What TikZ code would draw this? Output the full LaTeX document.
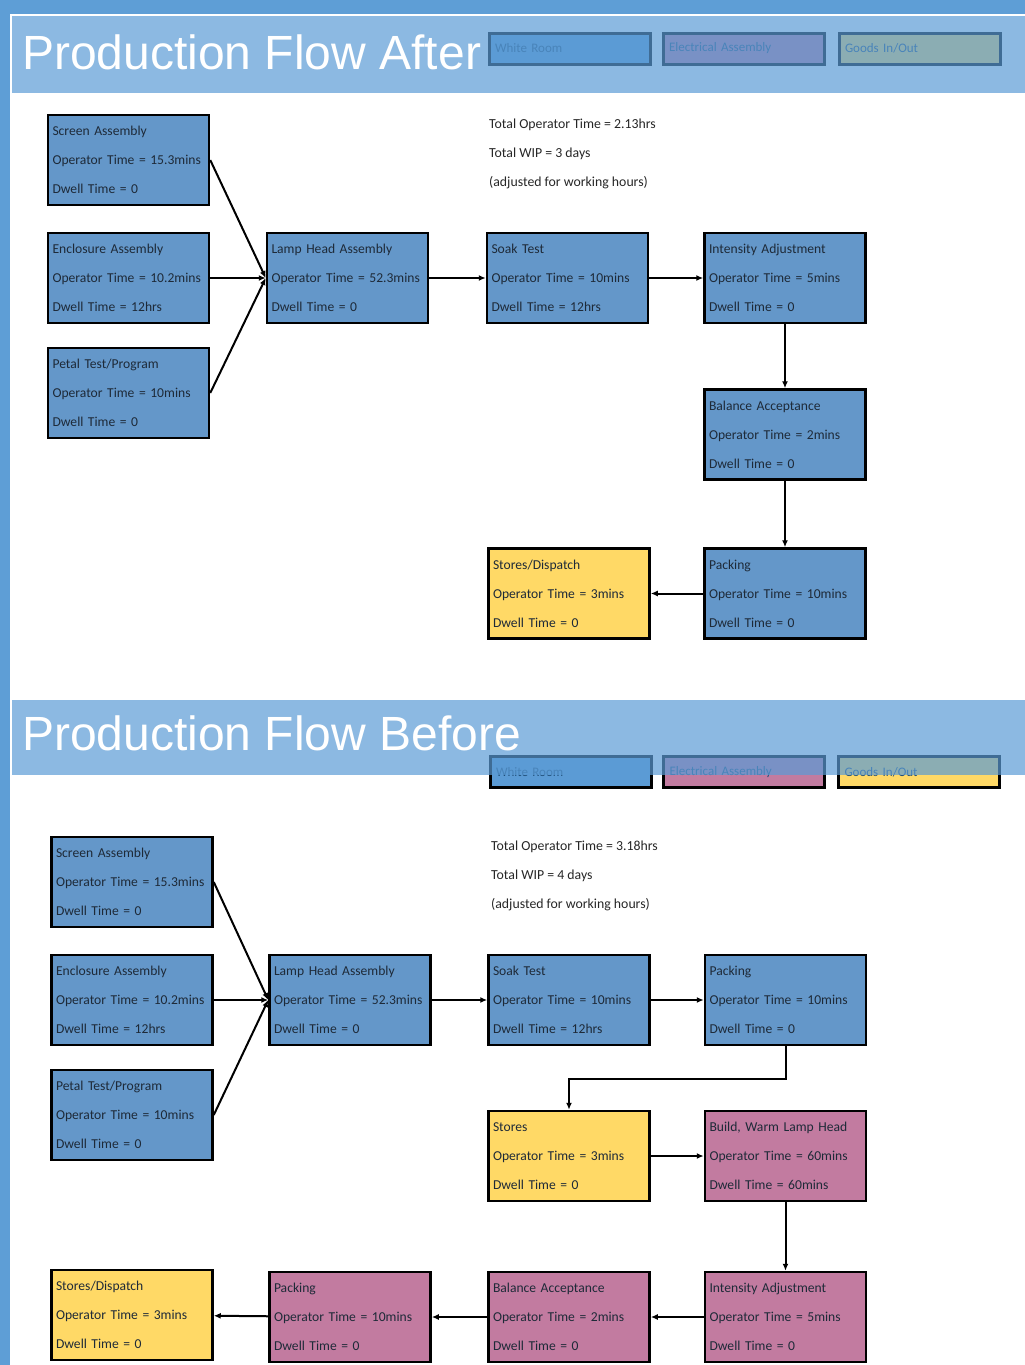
\documentclass[tikz,border=0pt]{standalone}
\usepackage{fontspec}
\setmainfont{Carlito}
\newfontfamily\headfont{Liberation Sans}
\usetikzlibrary{arrows.meta}
\definecolor{stripblue}{HTML}{5E9ED6}
\definecolor{bandblue}{HTML}{5B9BD5}
\definecolor{wroom}{HTML}{6497C9}
\definecolor{eassy}{HTML}{C27BA0}
\definecolor{goods}{HTML}{FFD966}
\definecolor{boxtext}{HTML}{1E2A38}
\definecolor{keytext}{HTML}{1F4E79}
\begin{document}
\begin{tikzpicture}[x=1pt,y=-1pt,
    stage/.style={draw, line width=2.5pt, minimum width=161pt, minimum height=90pt,
      text width=152pt, inner xsep=4.5pt, inner ysep=2pt, align=left, text=boxtext,
      font=\fontsize{13.6}{29}\selectfont},
    wr/.style={stage, fill=wroom},
    ea/.style={stage, fill=eassy},
    gd/.style={stage, fill=goods},
    key/.style={draw, line width=3pt, minimum width=161pt, minimum height=31pt,
      text width=149pt, inner xsep=6pt, align=left, text=keytext,
      font=\fontsize{13}{15}\selectfont},
    note/.style={align=left, text=black!85, inner sep=0pt,
      font=\fontsize{13.8}{29}\selectfont},
    head/.style={anchor=base west, text=white, inner sep=0pt,
      font=\headfont\fontsize{48}{50}\selectfont},
    flow/.style={-{Latex[length=7pt,width=6pt]}, line width=2pt},
  ]
  \useasboundingbox (0,0) rectangle (1025,1365);
  % frame
  \fill[stripblue] (0,0) rectangle (1025,14);
  \fill[stripblue] (0,0) rectangle (10,1365);
  % keys, under the bands
  \node[key, fill=bandblue] (kw1) at (569.5,48.5) {White Room};
  \node[key, fill=eassy] (ke1) at (743.5,48.5) {Electrical Assembly};
  \node[key, fill=goods] (kg1) at (919.5,48.5) {Goods In/Out};
  \node[key, fill=bandblue] (kw2) at (570.5,772) {White Room};
  \node[key, fill=eassy] (ke2) at (744,772) {Electrical Assembly};
  \node[key, fill=goods] (kg2) at (919,772) {Goods In/Out};
  \fill[bandblue, opacity=.7] (12,16) rectangle (1025,93);
  \fill[bandblue, opacity=.7] (12,700) rectangle (1025,775);
  \node[head] (t1) at (22,69) {Production Flow After};
  \node[head] (t2) at (22,750) {Production Flow Before};

  % after
  \node[wr] (sa1) at (128.5,160) {Screen Assembly\\Operator Time = 15.3mins\\Dwell Time = 0};
  \node[wr] (ea1) at (128.5,278) {Enclosure Assembly\\Operator Time = 10.2mins\\Dwell Time = 12hrs};
  \node[wr] (pt1) at (128.5,393) {Petal Test/Program\\Operator Time = 10mins\\Dwell Time = 0};
  \node[wr] (lh1) at (347.5,278) {Lamp Head Assembly\\Operator Time = 52.3mins\\Dwell Time = 0};
  \node[wr] (st1) at (567.5,278) {Soak Test\\Operator Time = 10mins\\Dwell Time = 12hrs};
  \node[wr] (ia1) at (785,278) {Intensity Adjustment\\Operator Time = 5mins\\Dwell Time = 0};
  \node[wr] (ba1) at (785,434.5) {Balance Acceptance\\Operator Time = 2mins\\Dwell Time = 0};
  \node[wr] (pk1) at (785,593.5) {Packing\\Operator Time = 10mins\\Dwell Time = 0};
  \node[gd] (sd1) at (569,593.5) {Stores/Dispatch\\Operator Time = 3mins\\Dwell Time = 0};
  \node[note, anchor=west] (tot1) at (489,154) {Total Operator Time = 2.13hrs\\Total WIP = 3 days\\(adjusted for working hours)};
  \draw[flow] (sa1.east) -- (lh1.west);
  \draw[flow] (ea1) -- (lh1);
  \draw[flow] (pt1.east) -- (lh1.west);
  \draw[flow] (lh1) -- (st1);
  \draw[flow] (st1) -- (ia1);
  \draw[flow] (ia1) -- (ba1);
  \draw[flow] (ba1) -- (pk1);
  \draw[flow] (pk1) -- (sd1);

  % before
  \node[wr] (sa2) at (132,882) {Screen Assembly\\Operator Time = 15.3mins\\Dwell Time = 0};
  \node[wr] (ea2) at (132,1000) {Enclosure Assembly\\Operator Time = 10.2mins\\Dwell Time = 12hrs};
  \node[wr] (pt2) at (132,1115) {Petal Test/Program\\Operator Time = 10mins\\Dwell Time = 0};
  \node[wr] (lh2) at (350,1000) {Lamp Head Assembly\\Operator Time = 52.3mins\\Dwell Time = 0};
  \node[wr] (st2) at (569,1000) {Soak Test\\Operator Time = 10mins\\Dwell Time = 12hrs};
  \node[wr] (pk2) at (785.5,1000) {Packing\\Operator Time = 10mins\\Dwell Time = 0};
  \node[gd] (so2) at (569,1156) {Stores\\Operator Time = 3mins\\Dwell Time = 0};
  \node[ea] (bw2) at (785.5,1156) {Build, Warm Lamp Head\\Operator Time = 60mins\\Dwell Time = 60mins};
  \node[ea] (ia2) at (785.5,1317) {Intensity Adjustment\\Operator Time = 5mins\\Dwell Time = 0};
  \node[ea] (ba2) at (569,1317) {Balance Acceptance\\Operator Time = 2mins\\Dwell Time = 0};
  \node[ea] (pk3) at (350,1317) {Packing\\Operator Time = 10mins\\Dwell Time = 0};
  \node[gd] (sd2) at (132,1315) {Stores/Dispatch\\Operator Time = 3mins\\Dwell Time = 0};
  \node[note, anchor=west] (tot2) at (491,876) {Total Operator Time = 3.18hrs\\Total WIP = 4 days\\(adjusted for working hours)};
  \draw[flow] (sa2.east) -- (lh2.west);
  \draw[flow] (ea2) -- (lh2);
  \draw[flow] (pt2.east) -- (lh2.west);
  \draw[flow] (lh2) -- (st2);
  \draw[flow] (st2) -- (pk2);
  \draw[flow] (pk2.south) -- ++(0,33) -| (so2.north);
  \draw[flow] (so2) -- (bw2);
  \draw[flow] (bw2) -- (ia2);
  \draw[flow] (ia2) -- (ba2);
  \draw[flow] (ba2) -- (pk3);
  \draw[flow] (pk3) -- (sd2);
\end{tikzpicture}
\end{document}
